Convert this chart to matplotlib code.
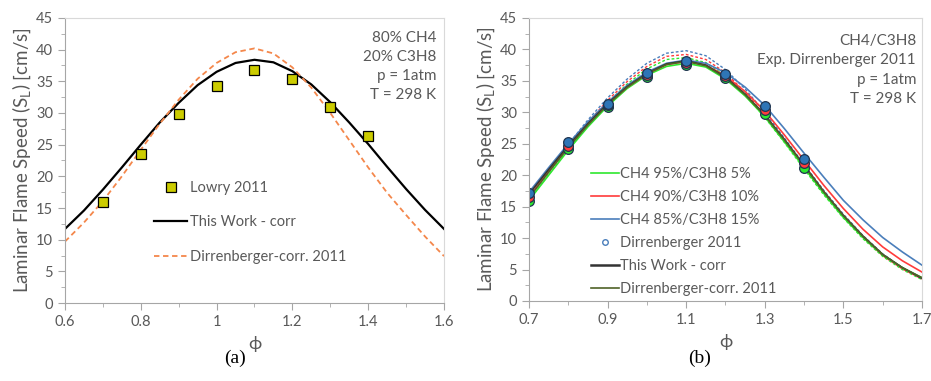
import numpy as np
import matplotlib
matplotlib.use('Agg')
import matplotlib.pyplot as plt
from matplotlib.lines import Line2D
from matplotlib.ticker import MultipleLocator

plt.rcParams['font.family'] = ['Lato', 'DejaVu Sans']

# ---- panel (a): 80% CH4 / 20% C3H8 ----
phi_a = [0.60, 0.65, 0.70, 0.75, 0.80, 0.85, 0.90, 0.95, 1.00, 1.05, 1.10,
         1.15, 1.20, 1.25, 1.30, 1.35, 1.40, 1.45, 1.50, 1.55, 1.60]
this_work_a = [11.7, 14.6, 17.9, 21.4, 25.0, 28.5, 31.6, 34.4, 36.5, 37.9, 38.4,
               38.0, 36.6, 34.5, 31.7, 28.5, 25.1, 21.5, 18.0, 14.7, 11.7]
dirr_corr_a = [9.7, 12.7, 16.1, 20.0, 24.2, 28.3, 32.1, 35.4, 37.9, 39.6, 40.2,
               39.4, 37.2, 34.0, 30.0, 25.7, 21.4, 17.4, 13.9, 10.5, 7.4]
lowry_phi = [0.7, 0.8, 0.9, 1.0, 1.1, 1.2, 1.3, 1.4]
lowry_sl = [16.0, 23.6, 29.8, 34.3, 36.8, 35.4, 30.9, 26.3]

# ---- panel (b): CH4/C3H8 mixtures ----
phi_b = [0.70, 0.75, 0.80, 0.85, 0.90, 0.95, 1.00, 1.05, 1.10, 1.15, 1.20,
         1.25, 1.30, 1.35, 1.40, 1.45, 1.50, 1.55, 1.60, 1.65, 1.70]
ch4_95 = [16.0, 20.0, 24.0, 27.7, 31.0, 33.8, 35.9, 37.3, 37.8, 37.2, 35.3,
          32.6, 29.3, 25.3, 21.2, 17.1, 13.3, 10.1, 7.3, 5.3, 3.7]
ch4_90 = [16.6, 20.6, 24.5, 28.1, 31.3, 34.0, 36.1, 37.6, 38.1, 37.5, 35.8,
          33.3, 30.2, 26.4, 22.4, 18.4, 14.7, 11.4, 8.6, 6.4, 4.6]
ch4_85 = [17.3, 21.2, 25.0, 28.5, 31.6, 34.3, 36.4, 37.8, 38.3, 37.8, 36.3,
          34.0, 31.1, 27.4, 23.5, 19.7, 16.0, 12.9, 10.1, 7.8, 5.7]
this_work_b = [17.0, 20.9, 24.7, 28.2, 31.4, 34.1, 36.2, 37.7, 38.2, 37.5, 35.6,
               32.9, 29.6, 25.7, 21.6, 17.4, 13.6, 10.3, 7.4, 5.3, 3.6]
dirr_corr_b = [16.4, 20.5, 24.4, 28.0, 31.2, 34.0, 36.1, 37.6, 38.1, 37.4, 35.5,
               32.8, 29.5, 25.6, 21.5, 17.4, 13.6, 10.3, 7.4, 5.3, 3.7]
dash_85 = [16.8, 20.9, 24.9, 28.8, 32.3, 35.3, 37.8, 39.4, 39.8, 39.0, 36.8,
           33.7, 30.0, 25.9, 21.7, 17.6, 13.8, 10.4, 7.5, 5.3, 3.6]
dash_90 = [16.4, 20.5, 24.5, 28.4, 31.9, 34.9, 37.3, 38.9, 39.2, 38.4, 36.3,
           33.2, 29.6, 25.5, 21.3, 17.2, 13.4, 10.1, 7.2, 5.1, 3.5]
dash_95 = [16.0, 20.1, 24.1, 28.0, 31.5, 34.5, 36.9, 38.4, 38.7, 37.9, 35.8,
           32.8, 29.2, 25.2, 21.0, 16.9, 13.2, 9.9, 7.1, 5.0, 3.4]
exp_phi = [0.7, 0.8, 0.9, 1.0, 1.1, 1.2, 1.3, 1.4]
exp_95 = [15.9, 24.2, 30.9, 35.6, 37.5, 35.4, 29.8, 21.2]
exp_90 = [16.6, 24.7, 31.1, 35.9, 37.8, 35.7, 30.4, 21.9]
exp_85 = [17.2, 25.3, 31.4, 36.2, 38.1, 36.1, 31.0, 22.6]

GRAY = '#595959'
GREEN = '#2ee82e'
RED = '#ff3b3b'
BLUE = '#4a7ebb'
OLIVE = '#4f6228'
ORANGE = '#f4874b'
YLAB = 'Laminar Flame Speed (S$_\\mathregular{L}$) [cm/s]'

fig = plt.figure(figsize=(9.31, 3.81), dpi=100)
ax1 = fig.add_axes([0.0698, 0.2047, 0.4071, 0.7481])
ax2 = fig.add_axes([0.5682, 0.2100, 0.4221, 0.7428])


def style(ax, xmin, xmax):
    ax.set_ylim(0, 45)
    ax.set_xlim(xmin, xmax)
    ax.yaxis.set_major_locator(MultipleLocator(5))
    ax.yaxis.set_minor_locator(MultipleLocator(2.5))
    ax.xaxis.set_major_locator(MultipleLocator(0.2))
    ax.xaxis.set_minor_locator(MultipleLocator(0.1))
    ax.tick_params(which='both', colors='#a6a6a6', labelcolor=GRAY,
                   labelsize=10.5, direction='out')
    ax.tick_params(which='major', length=5)
    ax.tick_params(which='minor', length=3)
    for side in ['top', 'right']:
        ax.spines[side].set_color('#d9d9d9')
    for side in ['left', 'bottom']:
        ax.spines[side].set_color('#a6a6a6')
    ax.set_xlabel('ϕ', color=GRAY, fontsize=13, labelpad=5)
    ax.set_ylabel(YLAB, color=GRAY, fontsize=13.5, labelpad=2)


# panel (a)
ax1.plot(phi_a, this_work_a, color='black', lw=1.6, label='This Work - corr')
ax1.plot(phi_a, dirr_corr_a, color=ORANGE, lw=1.3, ls=(0, (3, 2)),
         label='Dirrenberger-corr. 2011')
ax1.plot(lowry_phi, lowry_sl, ls='none', marker='s', ms=7, mfc='#cccc00',
         mec='black', mew=0.9, label='Lowry 2011')
style(ax1, 0.6, 1.6)
ax1.set_xticks([0.6, 0.8, 1.0, 1.2, 1.4, 1.6])
ax1.set_xticklabels(['0.6', '0.8', '1', '1.2', '1.4', '1.6'])
h, l = ax1.get_legend_handles_labels()
ax1.legend([h[2], h[0], h[1]], [l[2], l[0], l[1]], loc='upper left',
           bbox_to_anchor=(0.2, 0.475), frameon=False, fontsize=10.5,
           labelcolor=GRAY, labelspacing=1.42, handlelength=2.3,
           handletextpad=0.15)
ax1.text(0.98, 0.955, '80% CH4\n20% C3H8\np = 1atm\nT = 298 K',
         transform=ax1.transAxes, ha='right', va='top', fontsize=11,
         color=GRAY, linespacing=1.45)

# panel (b)
ax2.plot(phi_b, dash_95, color=GREEN, lw=1.0, ls=(0, (2, 1.5)))
ax2.plot(phi_b, dash_90, color=RED, lw=1.0, ls=(0, (2, 1.5)))
ax2.plot(phi_b, dash_85, color=BLUE, lw=1.0, ls=(0, (2, 1.5)))
ax2.plot(phi_b, ch4_95, color=GREEN, lw=1.2)
ax2.plot(phi_b, ch4_90, color=RED, lw=1.2)
ax2.plot(phi_b, ch4_85, color=BLUE, lw=1.2)
ax2.plot(phi_b, this_work_b, color='#333333', lw=1.2)
ax2.plot(phi_b, dirr_corr_b, color=OLIVE, lw=1.2)
for ys, c in [(exp_95, GREEN), (exp_90, RED), (exp_85, '#2e75b6')]:
    ax2.plot(exp_phi, ys, ls='none', marker='o', ms=7, mfc=c,
             mec='#1f3550', mew=0.9)
style(ax2, 0.7, 1.7)
ax2.set_xticks([0.7, 0.9, 1.1, 1.3, 1.5, 1.7])
ax2.set_xticklabels(['0.7', '0.9', '1.1', '1.3', '1.5', '1.7'])
handles = [
    Line2D([], [], color=GREEN, lw=1.2),
    Line2D([], [], color=RED, lw=1.2),
    Line2D([], [], color=BLUE, lw=1.2),
    Line2D([], [], ls='none', marker='o', ms=4, mfc='none', mec=BLUE, mew=1),
    Line2D([], [], color='#333333', lw=1.8),
    Line2D([], [], color=OLIVE, lw=1.2),
]
labels = ['CH4 95%/C3H8 5%', 'CH4 90%/C3H8 10%', 'CH4 85%/C3H8 15%',
          'Dirrenberger 2011', 'This Work - corr', 'Dirrenberger-corr. 2011']
ax2.legend(handles, labels, loc='upper left', bbox_to_anchor=(0.125, 0.52),
           frameon=False, fontsize=10.5, labelcolor=GRAY, labelspacing=0.62,
           handlelength=1.9, handletextpad=0.05)
ax2.text(0.985, 0.945, 'CH4/C3H8\nExp. Dirrenberger 2011\np = 1atm\nT = 298 K',
         transform=ax2.transAxes, ha='right', va='top', fontsize=11,
         color=GRAY, linespacing=1.5)

fig.text(235 / 931, 1 - 358 / 381, '(a)', ha='center', va='center',
         fontsize=14, family='Liberation Serif')
fig.text(700 / 931, 1 - 358 / 381, '(b)', ha='center', va='center',
         fontsize=14, family='Liberation Serif')

fig.savefig('out.png', dpi=100)
